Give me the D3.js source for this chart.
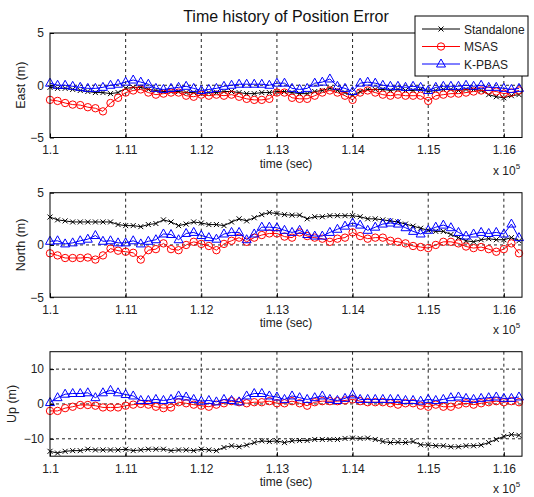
<!DOCTYPE html>
<html>
<head>
<meta charset="utf-8">
<script src="https://cdn.jsdelivr.net/npm/d3@7"></script>
<style>
  body { margin: 0; background: #fff; }
  svg { display: block; font-family: "Liberation Sans", Arial, sans-serif; }
</style>
</head>
<body>
<div id="chart"></div>
<script>
// time stamps (sec)
var times = [110000,110100,110200,110300,110400,110500,110600,110700,110800,110900,
             111000,111100,111200,111300,111400,111500,111600,111700,111800,111900,
             112000,112100,112200,112300,112400,112500,112600,112700,112800,112900,
             113000,113100,113200,113300,113400,113500,113600,113700,113800,113900,
             114000,114100,114200,114300,114400,114500,114600,114700,114800,114900,
             115000,115100,115200,115300,115400,115500,115600,115700,115800,115900,
             116000,116100,116200];

var xTicks = [110000,111000,112000,113000,114000,115000,116000];
var xTickLabels = ["1.1","1.11","1.12","1.13","1.14","1.15","1.16"];

var seriesNames = ["Standalone", "MSAS", "K-PBAS"];

// East error (m)
var eastStandalone = [-0.2,-0.3,-0.3,-0.4,-0.5,-0.6,-0.7,-0.7,-0.8,-0.7,
  -0.3,-0.2,-0.2,-0.4,-0.5,-0.6,-0.6,-0.6,-0.7,-0.7,
  -0.8,-0.7,-0.7,-0.6,-0.6,-0.7,-0.8,-0.8,-0.7,-0.7,
  -0.6,-0.6,-0.7,-0.8,-0.8,-0.6,-0.5,-0.3,-0.5,-0.7,
  -1.0,-0.6,-0.4,-0.4,-0.4,-0.5,-0.4,-0.5,-0.5,-0.4,
  -0.6,-0.5,-0.4,-0.4,-0.5,-0.4,-0.4,-0.5,-0.9,-1.1,
  -1.2,-1.0,-0.9];
var eastMSAS = [-1.4,-1.5,-1.7,-1.85,-1.9,-2.1,-2.2,-2.5,-1.7,-1.2,
  -0.7,-0.5,-0.4,-0.7,-0.9,-0.8,-0.7,-0.7,-1.0,-1.1,
  -0.9,-1.0,-0.9,-1.0,-0.9,-1.1,-1.3,-1.4,-1.4,-1.3,
  -0.7,-0.7,-1.2,-1.3,-1.3,-1.0,-0.7,-0.5,-0.7,-1.0,
  -1.4,-0.7,-0.5,-0.7,-0.9,-1.0,-0.9,-1.0,-1.0,-1.0,
  -1.5,-1.0,-0.9,-0.8,-0.8,-0.7,-0.6,-0.5,-0.5,-0.6,
  -0.8,-0.7,-0.5];
var eastKPBAS = [0.2,0.0,0.0,-0.1,-0.2,-0.3,-0.3,-0.2,0.0,0.1,
  0.3,0.5,0.3,0.1,-0.3,-0.4,-0.3,-0.2,-0.1,-0.3,
  -0.5,-0.4,-0.3,-0.1,0.0,0.1,0.1,0.1,0.1,0.0,
  0.2,0.2,-0.3,-0.4,-0.3,0.2,0.3,0.6,-0.1,-0.3,
  -0.6,0.2,0.3,0.2,0.0,-0.1,-0.1,-0.2,-0.1,-0.2,
  -0.5,-0.2,-0.1,-0.1,-0.1,0.0,-0.1,0.0,-0.2,-0.2,
  -0.3,-0.4,-0.3];

// North error (m)
var northStandalone = [2.67,2.4,2.3,2.2,2.2,2.2,2.2,2.2,2.2,1.95,
  1.85,1.85,1.75,1.95,2.05,2.4,2.2,1.85,2.0,2.2,
  2.1,1.95,1.95,1.85,2.2,2.5,2.3,2.6,2.9,3.1,
  3.0,2.9,2.85,2.85,2.5,2.7,2.7,2.8,2.8,2.8,
  2.8,2.7,2.5,2.5,2.4,2.3,2.2,2.0,1.8,1.6,
  1.4,1.3,1.3,1.0,0.7,0.4,0.3,0.5,0.6,0.5,
  0.5,0.7,0.4];
var northMSAS = [-0.8,-1.0,-1.25,-1.25,-1.25,-1.2,-1.4,-1.0,-0.35,-0.55,
  -0.65,-0.75,-1.4,-0.5,-0.4,0.15,-0.4,-0.5,0.0,0.3,
  0.1,-0.1,-0.5,0.1,0.4,0.7,0.3,0.7,0.95,1.1,
  1.1,0.8,0.7,1.2,0.85,0.7,0.6,0.3,0.6,0.7,
  1.2,0.85,0.6,0.7,0.7,0.4,0.3,0.15,-0.1,-0.2,
  -0.3,0.0,0.3,0.3,0.15,-0.15,-0.3,-0.2,-0.4,-0.65,
  -0.4,0.15,-0.8];
var northKPBAS = [0.35,0.4,0.1,0.2,0.4,0.55,0.9,0.35,0.4,0.2,
  0.2,0.4,0.1,0.35,0.5,1.05,1.0,0.5,1.1,1.2,
  0.9,0.7,0.55,1.05,1.2,1.2,0.5,1.05,1.7,1.7,
  1.65,1.4,1.2,1.4,1.0,0.85,0.85,1.2,1.5,1.8,
  2.1,1.9,1.4,1.7,2.0,2.1,2.0,1.65,1.3,1.05,
  1.4,1.7,1.9,1.65,1.2,0.85,1.05,1.2,1.1,1.2,
  1.05,2.0,0.7];

// Up error (m)
var upStandalone = [-13.6,-14.1,-13.6,-13.4,-13.4,-13.0,-13.2,-13.2,-13.2,-13.2,
  -13.0,-13.4,-13.2,-13.0,-13.0,-13.0,-13.4,-13.2,-13.2,-13.4,
  -13.0,-13.2,-13.4,-12.5,-12.0,-12.3,-11.8,-11.1,-10.6,-10.8,
  -10.6,-11.1,-10.6,-10.5,-10.5,-10.2,-10.2,-10.2,-10.2,-9.9,
  -9.8,-9.9,-9.8,-10.2,-10.8,-11.1,-11.0,-11.1,-10.8,-11.7,
  -11.8,-12.0,-12.0,-12.3,-12.3,-12.0,-12.0,-11.8,-11.1,-10.2,
  -9.3,-8.8,-9.0];
var upMSAS = [-2.0,-2.0,-1.2,-0.8,-0.3,-0.3,-0.5,-1.0,-1.0,-1.0,
  -0.5,-0.2,0.0,-0.2,-0.8,-1.2,-1.0,0.5,0.2,-0.2,
  -0.5,-0.8,-0.2,0.2,0.8,0.5,0.2,0.5,0.5,0.8,
  0.2,0.2,0.8,0.2,-0.5,0.5,0.8,0.8,0.8,1.0,
  1.3,0.8,0.5,0.5,0.5,0.2,-0.2,0.2,0.2,-0.5,
  -0.8,-0.2,-0.8,-0.8,-0.2,0.2,-0.2,0.2,0.5,0.8,
  0.5,0.8,0.5];
var upKPBAS = [0.4,1.8,2.8,3.0,3.0,3.2,1.8,3.2,3.9,3.2,
  2.7,2.3,1.0,1.0,1.3,1.0,1.3,2.3,2.0,1.3,
  0.8,1.0,0.6,1.3,1.0,0.6,2.3,3.0,3.0,2.3,
  2.0,1.3,2.3,1.8,1.3,1.8,2.3,1.3,1.0,1.6,
  2.6,1.3,1.3,1.3,1.3,1.3,1.3,1.0,1.0,0.8,
  1.3,1.0,1.3,1.8,2.0,1.6,1.3,1.6,1.8,2.0,
  1.6,1.6,2.0];

var panels = [
  {label: "East (m)",  domain: [-5, 5],   ticks: [-5, 0, 5],     grid: [0],          data: [eastStandalone, eastMSAS, eastKPBAS]},
  {label: "North (m)", domain: [-5, 5],   ticks: [-5, 0, 5],     grid: [0],          data: [northStandalone, northMSAS, northKPBAS]},
  {label: "Up (m)",    domain: [-15, 15], ticks: [-10, 0, 10],   grid: [-10, 0, 10], data: [upStandalone, upMSAS, upKPBAS]}
];

var W = 534, H = 497;
var left = 50, right = 522;
var panelTops = [33, 192.7, 351.7], panelH = 104.5;
var colors = ["#000000", "#ff0000", "#0000ff"];

var svg = d3.select("#chart").append("svg")
    .attr("width", W).attr("height", H);

var x = d3.scaleLinear().domain([110000, 116240]).range([left, right]);

// draws a marker of a given series at (px, py)
function marker(g, k, px, py) {
  if (k == 0) {
    g.append("path")
      .attr("d", "M" + (px-2.5) + "," + (py-2.5) + "L" + (px+2.5) + "," + (py+2.5) +
                 "M" + (px-2.5) + "," + (py+2.5) + "L" + (px+2.5) + "," + (py-2.5))
      .attr("stroke", colors[0]).attr("stroke-width", 1).attr("fill", "none");
  } else if (k == 1) {
    g.append("circle").attr("cx", px).attr("cy", py).attr("r", 3.7)
      .attr("stroke", colors[1]).attr("fill", "none").attr("stroke-width", 1);
  } else {
    g.append("path")
      .attr("d", "M" + px + "," + (py-5) + "L" + (px+4.5) + "," + (py+3) + "L" + (px-4.5) + "," + (py+3) + "Z")
      .attr("stroke", colors[2]).attr("fill", "none").attr("stroke-width", 1);
  }
}

panels.forEach(function(p, pi) {
  var top = panelTops[pi], bottom = top + panelH;
  var y = d3.scaleLinear().domain(p.domain).range([bottom, top]);
  var g = svg.append("g");

  g.append("rect").attr("x", left).attr("y", top)
    .attr("width", right - left).attr("height", bottom - top)
    .attr("fill", "#fff");

  // dashed grid
  xTicks.slice(1).forEach(function(t) {
    g.append("line").attr("x1", x(t)).attr("x2", x(t)).attr("y1", top).attr("y2", bottom)
      .attr("stroke", "#222").attr("stroke-width", 1).attr("stroke-dasharray", "3,3");
  });
  p.grid.forEach(function(v) {
    g.append("line").attr("x1", left).attr("x2", right).attr("y1", y(v)).attr("y2", y(v))
      .attr("stroke", "#222").attr("stroke-width", 1).attr("stroke-dasharray", "3,3");
  });

  // series
  var line = d3.line().x(function(d, i) { return x(times[i]); }).y(function(d) { return y(d); });
  p.data.forEach(function(arr, k) {
    var sg = g.append("g");
    sg.append("path").datum(arr).attr("d", line)
      .attr("fill", "none").attr("stroke", colors[k]).attr("stroke-width", 1);
    arr.forEach(function(v, i) { marker(sg, k, x(times[i]), y(v)); });
  });

  // axes
  var ax = d3.axisBottom(x).tickValues(xTicks)
    .tickFormat(function(d, i) { return xTickLabels[i]; })
    .tickSizeInner(-4).tickSizeOuter(0).tickPadding(8);
  var axG = g.append("g").attr("transform", "translate(0," + bottom + ")").call(ax);
  var ay = d3.axisLeft(y).tickValues(p.ticks).tickSizeInner(-4).tickSizeOuter(0).tickPadding(6);
  var ayG = g.append("g").attr("transform", "translate(" + left + ",0)").call(ay);
  [axG, ayG].forEach(function(a) {
    a.select(".domain").remove();
    a.selectAll("line").attr("stroke", "#000");
    a.selectAll("text").attr("font-size", "12px").attr("fill", "#222")
      .attr("font-family", "Liberation Sans, Arial, sans-serif");
  });

  // frame
  g.append("rect").attr("x", left).attr("y", top)
    .attr("width", right - left).attr("height", bottom - top)
    .attr("fill", "none").attr("stroke", "#000").attr("stroke-width", 1);

  g.append("text")
    .attr("transform", "translate(" + (pi == 2 ? 16 : 25) + "," + ((top + bottom) / 2) + ") rotate(-90)")
    .attr("text-anchor", "middle").attr("font-size", "12.5px").attr("fill", "#222")
    .text(p.label);

  g.append("text").attr("x", (left + right) / 2).attr("y", bottom + 30)
    .attr("text-anchor", "middle").attr("font-size", "12px").attr("fill", "#222")
    .text("time (sec)");

  var mult = g.append("text").attr("x", 493).attr("y", bottom + 37)
    .attr("font-size", "12px").attr("fill", "#222");
  mult.append("tspan").text("x 10");
  mult.append("tspan").attr("dy", -6).attr("font-size", "8px").text("5");
});

// title
svg.append("text").attr("x", (left + right) / 2).attr("y", 22)
  .attr("text-anchor", "middle").attr("font-size", "16px").attr("fill", "#111")
  .text("Time history of Position Error");

// legend
var lg = svg.append("g");
lg.append("rect").attr("x", 415).attr("y", 16).attr("width", 113).attr("height", 60)
  .attr("fill", "#fff").attr("stroke", "#000").attr("stroke-width", 1);
seriesNames.forEach(function(name, k) {
  var ly = 29 + k * 17.5;
  lg.append("line").attr("x1", 422).attr("x2", 460).attr("y1", ly).attr("y2", ly)
    .attr("stroke", colors[k]).attr("stroke-width", 1);
  marker(lg, k, 441, ly);
  lg.append("text").attr("x", 464).attr("y", ly + 4.5)
    .attr("font-size", "12px").attr("fill", "#222").text(name);
});
</script>
</body>
</html>
